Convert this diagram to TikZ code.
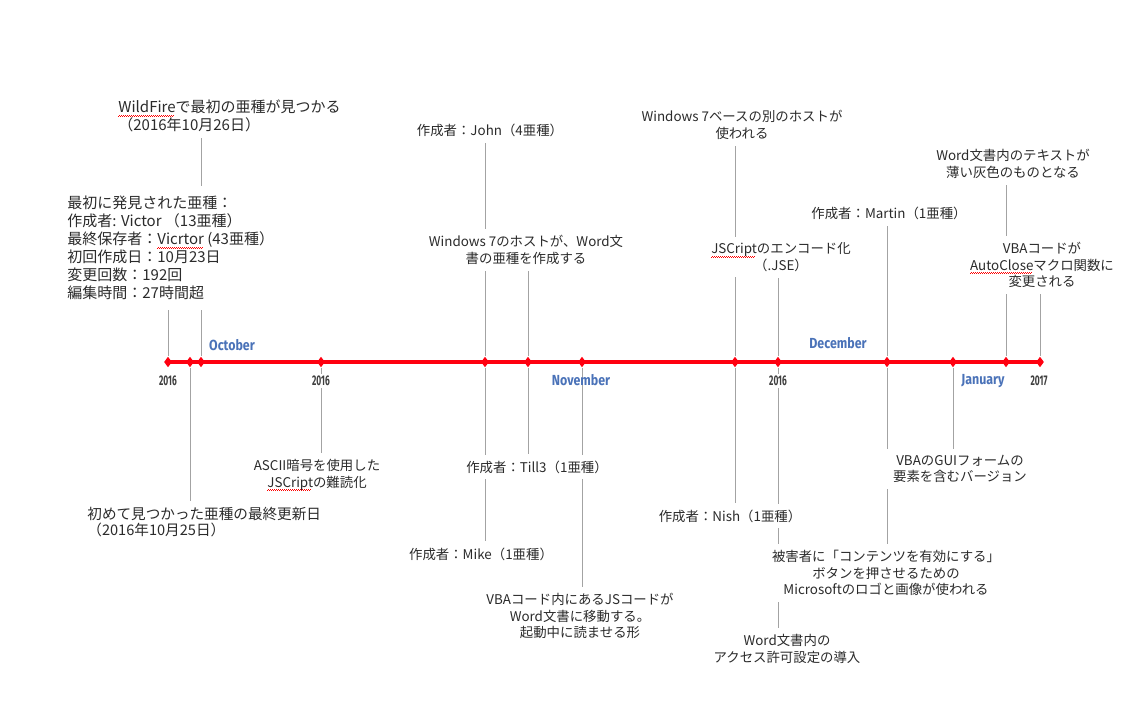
\documentclass[tikz,border=0pt]{standalone}
\usepackage{fontspec}
\usepackage{tikz}
\usetikzlibrary{shapes.geometric,backgrounds}
\newfontfamily\jpfont{Noto Sans CJK JP}
\newfontfamily\monthfont[FakeStretch=0.85]{Fira Sans}
\newfontfamily\yearfont[FakeStretch=0.6]{Fira Sans}
\definecolor{ink}{HTML}{2B2B2B}
\definecolor{stemgray}{HTML}{A3A3A3}
\definecolor{redline}{HTML}{FF0010}
\definecolor{monthblue}{HTML}{4A72B8}
\definecolor{yeargray}{HTML}{3F3F3F}
\tikzset{
  note/.style={fill=white,inner sep=3pt,text=ink,align=center,font=\jpfont\fontsize{6.7}{8.3}\selectfont},
  block/.style={note,align=left,font=\jpfont\fontsize{7.5}{9}\selectfont},
  gem/.style={diamond,fill=redline,inner sep=0pt,minimum width=4pt,minimum height=5.4pt},
  stem/.style={draw=stemgray,line width=0.5pt},
  month/.style={text=monthblue,inner sep=1pt,font=\monthfont\bfseries\fontsize{7.3}{8}\selectfont},
  year/.style={fill=white,text=yeargray,inner sep=1pt,font=\yearfont\bfseries\fontsize{7}{8}\selectfont}
}
% red wavy underline of the spell checker
\newsavebox\spellbox
\newcommand{\spell}[1]{\sbox\spellbox{#1}\rlap{\color{red}\leaders\hbox{\rule[-1.9pt]{0.5pt}{0.4pt}\rule[-1.5pt]{0.5pt}{0.4pt}}\hskip\wd\spellbox}\usebox\spellbox}

\begin{document}
\begin{tikzpicture}[x=0.5pt,y=-0.5pt]
  \useasboundingbox (0,0) rectangle (1128,706);
  % events on the line
  \foreach \n/\x in {a/168,b/190,c/201,d/321,e/485,f/528,g/582,h/735,i/778,j/887,k/953,l/1006,m/1040}
    \node[gem] (\n) at (\x,362) {};
  \node[year] (y1) at (168,381) {2016};
  \node[year] (y2) at (321,381) {2016};
  \node[year] (y3) at (778,381) {2016};
  \node[year] (y4) at (1039,381) {2017};
  \node[month] (oct) at (232,345) {October};
  \node[month] (nov) at (581,380) {November};
  \node[month] (dec) at (838,343) {December};
  \node[month] (jan) at (983,381) {January};

  % above the line
  \node[block,anchor=west] (wild) at (112,116) {\spell{WildFire}で最初の亜種が見つかる\\（2016年10月26日）};
  \node[block,anchor=west,inner ysep=5pt] (first) at (61,248) {最初に発見された亜種：\\作成者: Victor （13亜種）\\最終保存者：\spell{Vicrtor} (43亜種）\\初回作成日：10月23日\\変更回数：192回\\編集時間：27時間超};
  \node[note] (john) at (490,130) {作成者：John（4亜種）};
  \node[note] (hostdoc) at (526,250) {Windows 7のホストが、Word文\\書の亜種を作成する};
  \node[note] (althost) at (742,125) {Windows 7ベースの別のホストが\\使われる};
  \node[note] (jse) at (781,257) {\spell{JSCript}のエンコード化\\（.JSE）};
  \node[note] (martin) at (889,213) {作成者：Martin（1亜種）};
  \node[note] (grey) at (1013,164) {Word文書内のテキストが\\薄い灰色のものとなる};
  \node[note] (autoclose) at (1042,265) {VBAコードが\\\spell{AutoClose}マクロ関数に\\変更される};

  % below the line
  \node[block,anchor=west,font=\jpfont\fontsize{7.3}{8}\selectfont] (lastupd) at (81,522) {初めて見つかった亜種の最終更新日\\（2016年10月25日）};
  \node[note] (ascii) at (317,475) {ASCII暗号を使用した\\\spell{JSCript}の難読化};
  \node[note] (till) at (537,467) {作成者：Till3（1亜種）};
  \node[note] (mike) at (481,554) {作成者：Mike（1亜種）};
  \node[note] (jsmove) at (580,616) {VBAコード内にあるJSコードが\\Word文書に移動する。\\起動中に読ませる形};
  \node[note] (nish) at (730,516) {作成者：Nish（1亜種）};
  \node[note] (victim) at (886,573) {被害者に「コンテンツを有効にする」\\ボタンを押させるための\\Microsoftのロゴと画像が使われる};
  \node[note] (access) at (787,649) {Word文書内の\\アクセス許可設定の導入};
  \node[note] (gui) at (960,469) {VBAのGUIフォームの\\要素を含むバージョン};

  \begin{scope}[on background layer]
    \draw[stem] (a) -- (a |- first.south);
    \draw[stem] (c) -- (c |- wild.south);
    \draw[stem] (e) -- (e |- john.south);
    \draw[stem] (f) -- (f |- hostdoc.south);
    \draw[stem] (h) -- (h |- althost.south);
    \draw[stem] (i) -- (i |- jse.south);
    \draw[stem] (j) -- (j |- martin.south);
    \draw[stem] (l) -- (l |- grey.south);
    \draw[stem] (m) -- (m |- autoclose.south);
    \draw[stem] (b) -- (b |- lastupd.north);
    \draw[stem] (d) -- (d |- ascii.north);
    \draw[stem] (e) -- (e |- mike.north);
    \draw[stem] (f) -- (f |- till.north);
    \draw[stem] (g) -- (g |- jsmove.north);
    \draw[stem] (h) -- (h |- nish.north);
    \draw[stem] (i) -- (i |- access.north);
    \draw[stem] (j) -- (j |- victim.north);
    \draw[stem] (k) -- (k |- gui.north);
    \draw[redline,line width=2pt] (a.center) -- (m.center);
  \end{scope}
\end{tikzpicture}
\end{document}
